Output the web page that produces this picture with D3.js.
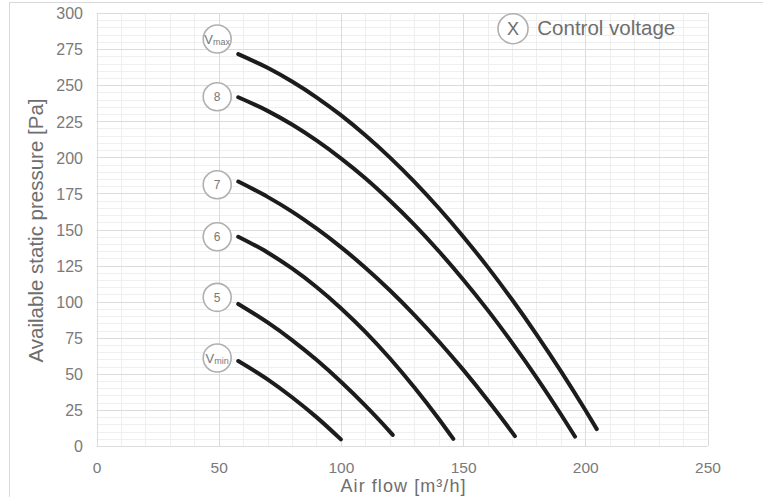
<!DOCTYPE html>
<html><head><meta charset="utf-8">
<script src="https://cdn.jsdelivr.net/npm/d3@7/dist/d3.min.js"></script>
<style>
body{margin:0;background:#fff}
text{font-family:"Liberation Sans",Arial,Helvetica,sans-serif}
</style>
</head><body>
<svg id="c" width="763" height="497"></svg>
<script>
// ---- data ----
const xTicks = [0, 50, 100, 150, 200, 250];
const yTicks = [0, 25, 50, 75, 100, 125, 150, 175, 200, 225, 250, 275, 300];
const seriesNames = ["Vmax", "8", "7", "6", "5", "Vmin"];
const labelFlow = [50, 50, 50, 50, 50, 50];
const labelPressure = [282, 242, 181, 145, 103, 61];

const flowVmax     = [58, 70, 80, 90, 100, 110, 120, 130, 140, 150, 160, 170, 180, 190, 200, 204.7];
const pressureVmax = [271.5, 262.0, 252.5, 241.6, 229.2, 215.3, 200.0, 183.2, 164.9, 145.2, 124.1, 101.5, 77.4, 51.9, 24.9, 11.7];
const flow8        = [58, 70, 80, 90, 100, 110, 120, 130, 140, 150, 160, 170, 180, 190, 195.8];
const pressure8    = [241.6, 232.2, 222.7, 211.7, 199.3, 185.5, 170.1, 153.4, 135.1, 115.4, 94.3, 71.6, 47.6, 22.0, 6.5];
const flow7        = [58, 70, 80, 90, 100, 110, 120, 130, 140, 150, 160, 170, 171.2];
const pressure7    = [183.2, 172.6, 162.4, 150.7, 137.8, 123.5, 107.9, 90.9, 72.6, 52.9, 31.9, 9.6, 6.8];
const flow6        = [58, 70, 80, 90, 100, 110, 120, 130, 140, 146];
const pressure6    = [145.0, 134.1, 123.0, 110.2, 95.5, 79.1, 60.8, 40.7, 18.9, 4.9];
const flow5        = [58, 70, 80, 90, 100, 110, 120, 121.2];
const pressure5    = [98.4, 85.6, 73.4, 59.7, 44.5, 28.0, 10.0, 7.7];
const flowVmin     = [58, 70, 80, 90, 100];
const pressureVmin = [58.9, 46.2, 33.8, 20.0, 4.6];

const legendSymbol = "X";
const legendText = "Control voltage";
const xTitle = "Air flow [m³/h]";
const yTitle = "Available static pressure [Pa]";

// ---- build ----
const curves = [
  [flowVmax, pressureVmax], [flow8, pressure8], [flow7, pressure7],
  [flow6, pressure6], [flow5, pressure5], [flowVmin, pressureVmin]
].map(([fx, pv], i) => ({name: seriesNames[i], pts: fx.map((f, j) => [f, pv[j]])}));

const svg = d3.select("#c");
const x = d3.scaleLinear().domain([0, 250]).range([96.5, 707.5]);
const y = d3.scaleLinear().domain([0, 300]).range([446, 13]);
const px = v => Math.round(x(v)) + 0.5;
const py = v => Math.round(y(v)) + 0.5;

// outer frame
svg.append("rect").attr("x", 9.5).attr("y", 2.5).attr("width", 800).attr("height", 600)
  .attr("fill", "none").attr("stroke", "#d9d9d9").attr("stroke-width", 1);

const g = svg.append("g");
const minorX = d3.range(0, 251, 10).filter(v => v % 50 !== 0);
const minorY = d3.range(0, 301, 5).filter(v => v % 25 !== 0);
g.selectAll(".mx").data(minorX).join("line")
  .attr("x1", px).attr("x2", px).attr("y1", y(0)).attr("y2", y(300))
  .attr("stroke", "#efefef").attr("stroke-width", 1);
g.selectAll(".my").data(minorY).join("line")
  .attr("x1", x(0)).attr("x2", x(250)).attr("y1", py).attr("y2", py)
  .attr("stroke", "#efefef").attr("stroke-width", 1);
g.selectAll(".Mx").data(xTicks).join("line")
  .attr("x1", px).attr("x2", px).attr("y1", y(0)).attr("y2", y(300))
  .attr("stroke", "#dcdcdc").attr("stroke-width", 1);
g.selectAll(".My").data(yTicks).join("line")
  .attr("x1", x(0)).attr("x2", x(250)).attr("y1", py).attr("y2", py)
  .attr("stroke", "#dcdcdc").attr("stroke-width", 1);

// axes (labels only)
const xAxis = d3.axisBottom(x).tickValues(xTicks).tickSize(0).tickPadding(0);
const xa = svg.append("g").attr("transform", "translate(0,446)").call(xAxis);
xa.select(".domain").remove();
xa.selectAll("text").attr("y", 26.5).attr("dy", 0).attr("fill", "#7a7a7a")
  .style("font-size", "15.5px").style("font-family", '"Liberation Sans",Arial,sans-serif');

const yAxis = d3.axisLeft(y).tickValues(yTicks).tickSize(0).tickPadding(0);
const ya = svg.append("g").attr("transform", "translate(83,0)").call(yAxis);
ya.select(".domain").remove();
ya.selectAll("text").attr("x", 0).attr("dy", "0.36em").attr("fill", "#7a7a7a")
  .style("font-size", "16px").style("font-family", '"Liberation Sans",Arial,sans-serif');

// titles
svg.append("text").attr("x", 403).attr("y", 492).attr("text-anchor", "middle")
  .attr("fill", "#6e6e6e").style("font-size", "18px")
  .attr("textLength", 125).attr("lengthAdjust", "spacing").text(xTitle);
svg.append("text").attr("transform", "translate(43,230.5) rotate(-90)").attr("text-anchor", "middle")
  .attr("fill", "#6e6e6e").style("font-size", "20.5px").text(yTitle);

// curves
const line = d3.line().x(d => x(d[0])).y(d => y(d[1])).curve(d3.curveMonotoneX);
svg.selectAll(".curve").data(curves).join("path")
  .attr("d", d => line(d.pts)).attr("fill", "none")
  .attr("stroke", "#1c1c1c").attr("stroke-width", 4).attr("stroke-linecap", "round");

// circle labels
const lab = svg.selectAll(".lab").data(seriesNames).join("g")
  .attr("transform", (d, i) => `translate(${x(labelFlow[i]) - 1.5},${y(labelPressure[i])})`);
lab.append("circle").attr("r", 14).attr("fill", "#fff").attr("stroke", "#b0b0b0").attr("stroke-width", 1.6);
lab.each(function(d) {
  const t = d3.select(this).append("text").attr("text-anchor", "middle").attr("fill", "#777");
  if (d === "Vmax" || d === "Vmin") {
    t.attr("y", 5).style("font-size", "13px");
    t.append("tspan").text("V");
    t.append("tspan").attr("dy", 1.5).style("font-size", "9px").text(d.slice(1));
  } else {
    t.attr("y", 4.2).style("font-size", "12px").text(d);
  }
});

// legend
const lg = svg.append("g").attr("transform", "translate(513,28.7)");
lg.append("circle").attr("r", 15).attr("fill", "#fff").attr("stroke", "#b0b0b0").attr("stroke-width", 1.6);
lg.append("text").attr("text-anchor", "middle").attr("y", 6.3).attr("fill", "#6e6e6e")
  .style("font-size", "18px").text(legendSymbol);
lg.append("text").attr("x", 24.3).attr("y", 6.6).attr("fill", "#6e6e6e")
  .style("font-size", "20.5px").text(legendText);
</script>
</body></html>
